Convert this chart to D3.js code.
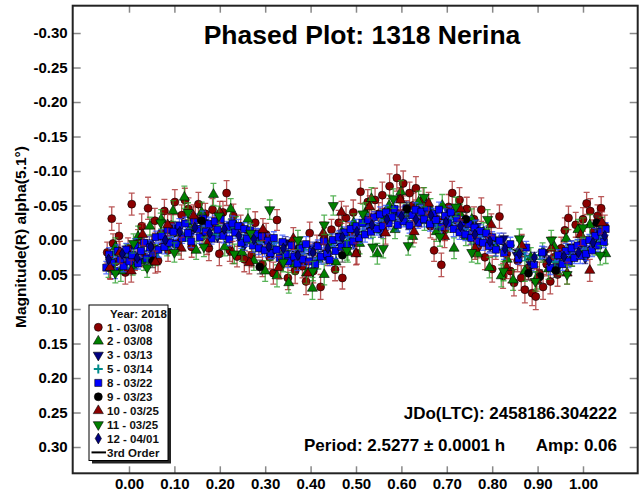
<!DOCTYPE html>
<html><head><meta charset="utf-8">
<script src="https://cdn.jsdelivr.net/npm/d3@7"></script>
<style>
body{margin:0;background:#fff}
svg{display:block}
text{font-family:"Liberation Sans",Arial,sans-serif;font-weight:bold}
</style></head>
<body><svg id="c" width="639" height="493"></svg>
<script>
// ---------- DATA ----------
const xTicks=[0.00,0.10,0.20,0.30,0.40,0.50,0.60,0.70,0.80,0.90,1.00];
const yTicks=[-0.30,-0.25,-0.20,-0.15,-0.10,-0.05,0.00,0.05,0.10,0.15,0.20,0.25,0.30];
const titleText="Phased Plot: 1318 Nerina";
const yLabel="Magnitude(R) alpha(5.1°)";
const legendTitle="Year: 2018";
const legendLabels=["1 - 03/08","2 - 03/08","3 - 03/13","5 - 03/14","8 - 03/22","9 - 03/23","10 - 03/25","11 - 03/25","12 - 04/01"];
const fitLabel="3rd Order";
const jdText="JDo(LTC): 2458186.304222";
const periodText="Period: 2.5277 ± 0.0001 h";
const ampText="Amp: 0.06";
const fitPhase=[-0.05,0.00,0.05,0.10,0.15,0.20,0.25,0.30,0.35,0.40,0.45,0.50,0.55,0.60,0.65,0.70,0.75,0.80,0.85,0.90,0.95,1.00,1.05];
const fitMag=[0.030,0.025,0.012,-0.005,-0.015,-0.013,-0.008,0.003,0.015,0.020,0.010,-0.008,-0.024,-0.031,-0.033,-0.028,-0.015,0.000,0.015,0.028,0.027,0.015,-0.010];

// [phase, mag, err]
const s1=[[-0.048,0.018,0.015],[-0.041,0.041,0.016],[-0.038,-0.031,0.017],[-0.035,0.005,0.014],[-0.030,0.032,0.015],[-0.022,-0.006,0.018],[-0.015,0.028,0.015],[-0.008,0.047,0.017],[-0.002,0.012,0.015],[0.006,-0.052,0.016],[0.013,0.030,0.014],[0.020,0.002,0.017],[0.028,-0.020,0.018],[0.034,0.024,0.015],[0.042,-0.046,0.016],[0.050,0.008,0.015],[0.057,-0.028,0.018],[0.064,0.030,0.016],[0.071,-0.010,0.015],[0.078,-0.042,0.017],[0.086,0.015,0.016],[0.093,-0.022,0.015],[0.101,-0.055,0.018],[0.108,0.004,0.016],[0.116,-0.036,0.015],[0.123,-0.058,0.017],[0.131,-0.045,0.016],[0.138,0.010,0.015],[0.146,-0.030,0.018],[0.153,-0.052,0.017],[0.161,-0.005,0.016],[0.168,-0.038,0.015],[0.176,0.012,0.018],[0.184,-0.044,0.016],[0.191,-0.018,0.015],[0.199,0.020,0.017],[0.207,-0.040,0.016],[0.215,-0.068,0.018],[0.222,0.015,0.016],[0.230,-0.035,0.017],[0.238,0.024,0.015],[0.246,-0.020,0.016],[0.254,0.028,0.018],[0.262,-0.012,0.015],[0.270,0.022,0.017],[0.278,-0.025,0.016],[0.286,0.010,0.015],[0.294,0.035,0.018],[0.302,-0.008,0.016],[0.310,0.025,0.017],[0.318,0.048,0.016],[0.326,-0.029,0.015],[0.334,0.038,0.018],[0.342,0.018,0.016],[0.350,0.055,0.017],[0.358,0.028,0.016],[0.366,0.045,0.018],[0.374,0.012,0.015],[0.382,0.038,0.017],[0.390,0.060,0.019],[0.398,-0.010,0.016],[0.406,0.045,0.017],[0.414,0.008,0.015],[0.422,0.068,0.018],[0.430,-0.002,0.016],[0.438,0.020,0.017],[0.446,-0.015,0.015],[0.454,0.043,0.016],[0.462,-0.025,0.018],[0.470,0.055,0.016],[0.478,-0.032,0.017],[0.486,-0.010,0.015],[0.494,-0.040,0.018],[0.502,0.019,0.016],[0.510,-0.070,0.017],[0.518,-0.025,0.016],[0.526,-0.055,0.018],[0.534,-0.030,0.015],[0.542,-0.058,0.017],[0.550,-0.038,0.016],[0.558,-0.065,0.019],[0.566,-0.030,0.016],[0.574,-0.078,0.018],[0.582,-0.045,0.017],[0.590,-0.090,0.019],[0.597,-0.060,0.016],[0.604,-0.082,0.018],[0.611,-0.040,0.017],[0.618,-0.068,0.016],[0.625,-0.050,0.018],[0.632,-0.075,0.017],[0.640,-0.035,0.016],[0.648,-0.058,0.018],[0.656,-0.042,0.015],[0.664,-0.020,0.017],[0.672,0.015,0.016],[0.680,-0.030,0.018],[0.688,0.036,0.017],[0.696,-0.015,0.016],[0.704,-0.048,0.018],[0.712,-0.068,0.017],[0.720,-0.035,0.016],[0.728,-0.058,0.018],[0.736,-0.020,0.016],[0.744,-0.045,0.017],[0.752,-0.008,0.015],[0.760,-0.030,0.018],[0.768,0.010,0.016],[0.776,-0.044,0.017],[0.784,0.025,0.018],[0.792,-0.005,0.016],[0.800,0.042,0.019],[0.808,0.012,0.016],[0.816,-0.034,0.017],[0.824,0.052,0.018],[0.832,0.020,0.016],[0.840,0.045,0.017],[0.848,0.062,0.019],[0.856,0.030,0.016],[0.864,0.055,0.018],[0.872,0.072,0.019],[0.880,0.040,0.017],[0.888,0.077,0.018],[0.896,0.082,0.019],[0.904,0.048,0.016],[0.912,0.068,0.018],[0.920,0.035,0.017],[0.928,0.060,0.018],[0.936,0.025,0.016],[0.944,0.050,0.017],[0.952,0.012,0.016],[0.960,-0.014,0.018],[0.968,-0.032,0.017],[0.976,0.022,0.016],[0.984,-0.022,0.018],[0.992,0.008,0.016],[1.000,-0.030,0.017],[1.008,-0.053,0.016],[1.016,-0.042,0.018],[1.024,-0.012,0.017],[1.032,-0.035,0.016],[1.040,-0.046,0.017],[1.048,-0.020,0.016]];
const s2=[[-0.045,0.040,0.014],[-0.030,0.010,0.013],[-0.018,0.045,0.015],[-0.005,0.020,0.014],[0.008,0.038,0.013],[0.020,-0.005,0.015],[0.033,0.030,0.014],[0.046,-0.020,0.013],[0.058,0.022,0.015],[0.071,-0.030,0.014],[0.084,0.010,0.013],[0.097,-0.042,0.015],[0.110,0.008,0.014],[0.122,-0.062,0.016],[0.135,-0.018,0.014],[0.148,0.015,0.013],[0.160,-0.040,0.015],[0.173,-0.010,0.014],[0.186,-0.066,0.016],[0.198,-0.028,0.014],[0.211,0.010,0.013],[0.224,-0.045,0.015],[0.236,-0.020,0.014],[0.249,0.018,0.013],[0.262,-0.030,0.015],[0.275,0.030,0.014],[0.288,0.000,0.013],[0.300,0.045,0.015],[0.313,0.015,0.014],[0.326,0.052,0.016],[0.339,0.025,0.014],[0.352,0.062,0.015],[0.365,0.035,0.014],[0.378,0.008,0.013],[0.391,0.048,0.015],[0.404,0.070,0.016],[0.417,0.028,0.014],[0.430,0.050,0.015],[0.443,0.005,0.013],[0.456,0.032,0.014],[0.469,-0.012,0.015],[0.482,0.018,0.014],[0.495,-0.025,0.013],[0.508,0.005,0.015],[0.521,-0.040,0.014],[0.534,-0.060,0.016],[0.547,0.020,0.015],[0.560,-0.030,0.014],[0.573,-0.050,0.015],[0.586,-0.015,0.013],[0.599,-0.070,0.016],[0.612,-0.038,0.014],[0.625,-0.005,0.015],[0.638,-0.055,0.016],[0.651,-0.028,0.014],[0.664,-0.045,0.015],[0.677,-0.012,0.014],[0.690,-0.050,0.016],[0.703,-0.025,0.014],[0.716,0.012,0.015],[0.729,-0.038,0.014],[0.742,-0.005,0.013],[0.755,-0.030,0.015],[0.768,0.020,0.014],[0.781,-0.012,0.013],[0.794,0.040,0.015],[0.807,0.010,0.014],[0.820,0.052,0.016],[0.833,0.028,0.014],[0.846,0.058,0.015],[0.859,0.015,0.014],[0.872,0.045,0.015],[0.885,0.025,0.014],[0.898,0.055,0.016],[0.911,0.018,0.014],[0.924,0.042,0.015],[0.937,0.010,0.014],[0.950,0.035,0.015],[0.963,-0.002,0.014],[0.976,0.025,0.013],[0.989,-0.015,0.015],[1.002,0.012,0.014],[1.015,-0.022,0.015],[1.028,0.008,0.014],[1.041,-0.018,0.015],[1.050,0.020,0.014]];
const s3=[[-0.040,0.035,0.009],[-0.010,0.018,0.009],[0.020,0.030,0.008],[0.045,0.004,0.009],[0.075,-0.002,0.009],[0.105,-0.018,0.008],[0.135,-0.008,0.009],[0.165,-0.026,0.009],[0.195,-0.005,0.008],[0.225,-0.022,0.009],[0.255,0.006,0.009],[0.285,-0.008,0.008],[0.315,0.018,0.009],[0.345,0.004,0.009],[0.375,0.028,0.008],[0.405,0.012,0.009],[0.435,0.024,0.009],[0.465,-0.006,0.008],[0.495,0.004,0.009],[0.525,-0.024,0.009],[0.555,-0.012,0.008],[0.585,-0.038,0.009],[0.615,-0.024,0.009],[0.645,-0.044,0.008],[0.675,-0.025,0.009],[0.705,-0.040,0.009],[0.735,-0.012,0.008],[0.765,-0.020,0.009],[0.795,0.008,0.009],[0.825,-0.002,0.008],[0.855,0.022,0.009],[0.885,0.035,0.009],[0.915,0.018,0.008],[0.945,0.038,0.009],[0.975,0.010,0.009],[1.005,0.026,0.008],[1.035,-0.012,0.009]];
const s5=[[-0.035,0.022,0.006],[-0.005,0.034,0.006],[0.028,0.008,0.006],[0.062,0.018,0.006],[0.092,-0.010,0.006],[0.125,-0.004,0.006],[0.158,-0.020,0.006],[0.190,-0.008,0.006],[0.222,-0.018,0.006],[0.255,-0.002,0.006],[0.288,0.010,0.006],[0.320,0.004,0.006],[0.352,0.022,0.006],[0.385,0.014,0.006],[0.418,0.026,0.006],[0.450,0.004,0.006],[0.482,-0.004,0.006],[0.515,-0.020,0.006],[0.548,-0.016,0.006],[0.580,-0.034,0.006],[0.612,-0.026,0.006],[0.645,-0.036,0.006],[0.678,-0.024,0.006],[0.710,-0.030,0.006],[0.742,-0.010,0.006],[0.775,-0.006,0.006],[0.808,0.010,0.006],[0.840,0.008,0.006],[0.872,0.024,0.006],[0.905,0.022,0.006],[0.938,0.032,0.006],[0.970,0.016,0.006],[1.002,0.020,0.006],[1.035,-0.002,0.006]];
const s8=[[-0.050,0.040,0.009],[-0.044,0.021,0.010],[-0.038,0.033,0.008],[-0.031,0.045,0.011],[-0.025,0.016,0.009],[-0.019,0.029,0.010],[-0.012,0.038,0.008],[-0.006,0.014,0.009],[0.001,0.031,0.011],[0.007,0.022,0.009],[0.013,0.008,0.010],[0.020,0.034,0.008],[0.026,0.016,0.009],[0.033,0.004,0.011],[0.039,0.027,0.009],[0.046,0.011,0.010],[0.052,0.022,0.008],[0.059,-0.004,0.009],[0.065,0.014,0.011],[0.072,-0.006,0.009],[0.078,0.010,0.010],[0.085,-0.015,0.008],[0.091,0.004,0.009],[0.098,-0.012,0.011],[0.104,0.006,0.009],[0.111,-0.021,0.010],[0.117,-0.003,0.008],[0.124,-0.024,0.009],[0.130,-0.010,0.011],[0.137,0.002,0.009],[0.143,-0.028,0.010],[0.150,-0.016,0.008],[0.156,-0.004,0.009],[0.163,-0.031,0.011],[0.169,-0.012,0.009],[0.176,-0.023,0.010],[0.182,-0.002,0.008],[0.189,-0.027,0.009],[0.195,-0.015,0.011],[0.202,-0.030,0.009],[0.208,-0.006,0.010],[0.215,-0.019,0.008],[0.221,-0.001,0.009],[0.228,-0.024,0.011],[0.234,-0.011,0.009],[0.241,-0.020,0.010],[0.247,0.004,0.008],[0.254,-0.016,0.009],[0.260,-0.002,0.011],[0.267,-0.014,0.009],[0.273,0.008,0.010],[0.280,-0.009,0.008],[0.286,0.012,0.009],[0.293,-0.005,0.011],[0.299,0.015,0.009],[0.306,0.001,0.010],[0.312,0.019,0.008],[0.319,-0.003,0.009],[0.325,0.014,0.011],[0.332,0.026,0.009],[0.338,0.003,0.010],[0.345,0.021,0.008],[0.351,0.031,0.009],[0.358,0.008,0.011],[0.364,0.024,0.009],[0.371,0.034,0.010],[0.377,0.012,0.008],[0.384,0.028,0.009],[0.390,0.006,0.011],[0.397,0.031,0.009],[0.403,0.017,0.010],[0.410,0.035,0.008],[0.416,0.009,0.009],[0.423,0.024,0.011],[0.429,0.002,0.009],[0.436,0.020,0.010],[0.442,0.029,0.008],[0.449,0.000,0.009],[0.455,0.016,0.011],[0.462,-0.004,0.009],[0.468,0.010,0.010],[0.475,-0.011,0.008],[0.481,0.006,0.009],[0.488,-0.016,0.011],[0.494,0.002,0.009],[0.501,-0.020,0.010],[0.507,-0.003,0.008],[0.514,-0.025,0.009],[0.520,-0.008,0.011],[0.527,-0.029,0.009],[0.533,-0.012,0.010],[0.540,-0.033,0.008],[0.546,-0.016,0.009],[0.553,-0.037,0.011],[0.559,-0.020,0.009],[0.566,-0.040,0.010],[0.572,-0.024,0.008],[0.579,-0.033,0.009],[0.585,-0.045,0.011],[0.592,-0.022,0.009],[0.598,-0.038,0.010],[0.605,-0.027,0.008],[0.611,-0.046,0.009],[0.618,-0.021,0.011],[0.624,-0.036,0.009],[0.631,-0.044,0.010],[0.637,-0.025,0.008],[0.644,-0.041,0.009],[0.650,-0.030,0.011],[0.657,-0.047,0.009],[0.663,-0.023,0.010],[0.670,-0.038,0.008],[0.676,-0.029,0.009],[0.683,-0.044,0.011],[0.689,-0.019,0.009],[0.696,-0.035,0.010],[0.702,-0.024,0.008],[0.709,-0.040,0.009],[0.715,-0.016,0.011],[0.722,-0.031,0.009],[0.728,-0.011,0.010],[0.735,-0.026,0.008],[0.741,-0.008,0.009],[0.748,-0.023,0.011],[0.754,-0.003,0.009],[0.761,-0.018,0.010],[0.767,0.002,0.008],[0.774,-0.013,0.009],[0.780,0.004,0.011],[0.787,-0.010,0.009],[0.793,0.009,0.010],[0.800,-0.004,0.008],[0.808,0.014,0.009],[0.816,0.001,0.011],[0.826,0.019,0.009],[0.840,0.006,0.010],[0.858,0.027,0.008],[0.875,0.011,0.009],[0.892,0.036,0.011],[0.910,0.018,0.009],[0.928,0.040,0.010],[0.945,0.022,0.008],[0.955,0.035,0.009],[0.962,0.016,0.011],[0.968,0.031,0.009],[0.975,0.012,0.010],[0.981,0.026,0.008],[0.988,0.008,0.009],[0.994,0.023,0.011],[1.001,0.004,0.009],[1.007,0.020,0.010],[1.014,0.000,0.008],[1.020,0.015,0.009],[1.027,-0.006,0.011],[1.033,0.008,0.009],[1.040,-0.012,0.010],[1.046,0.003,0.008],[1.050,-0.016,0.009]];
const s9=[[0.052,0.030,0.010],[0.160,-0.028,0.010],[0.288,0.039,0.010],[0.470,0.022,0.010],[0.612,-0.045,0.010],[0.742,-0.030,0.010],[0.880,0.048,0.010],[0.905,0.053,0.010],[0.940,0.044,0.010],[1.030,-0.025,0.010]];
const s10=[[-0.042,0.040,0.016],[-0.020,0.018,0.016],[0.005,0.045,0.016],[0.030,-0.008,0.016],[0.058,0.032,0.016],[0.085,-0.022,0.016],[0.115,0.012,0.016],[0.142,-0.035,0.016],[0.172,0.005,0.016],[0.200,-0.040,0.016],[0.228,0.018,0.016],[0.265,0.033,0.016],[0.295,-0.015,0.016],[0.330,0.040,0.016],[0.362,-0.002,0.016],[0.395,0.048,0.016],[0.428,-0.010,0.016],[0.468,-0.040,0.016],[0.500,0.020,0.016],[0.530,-0.048,0.016],[0.565,-0.010,0.016],[0.598,-0.058,0.016],[0.628,-0.012,0.016],[0.660,-0.053,0.016],[0.695,-0.005,0.016],[0.730,-0.045,0.016],[0.762,0.012,0.016],[0.798,-0.022,0.016],[0.832,0.040,0.016],[0.865,0.008,0.016],[0.898,0.058,0.016],[0.930,0.012,0.016],[0.965,0.048,0.016],[0.995,-0.008,0.016],[1.015,0.044,0.016],[1.042,-0.025,0.016]];
const s11=[[-0.030,0.048,0.014],[0.010,0.005,0.014],[0.040,0.040,0.014],[0.070,-0.025,0.014],[0.100,0.018,0.014],[0.130,-0.040,0.014],[0.165,0.010,0.014],[0.198,-0.035,0.014],[0.232,0.020,0.014],[0.268,-0.010,0.014],[0.310,-0.044,0.014],[0.340,0.032,0.014],[0.372,0.000,0.014],[0.405,0.045,0.014],[0.430,-0.022,0.014],[0.450,-0.050,0.014],[0.480,0.015,0.014],[0.515,-0.038,0.014],[0.537,0.010,0.014],[0.560,0.012,0.014],[0.582,-0.060,0.014],[0.615,0.008,0.014],[0.650,-0.062,0.014],[0.685,-0.005,0.014],[0.720,-0.048,0.014],[0.755,0.018,0.014],[0.790,-0.030,0.014],[0.825,0.045,0.014],[0.860,-0.002,0.014],[0.895,0.060,0.014],[0.930,0.000,0.014],[0.965,0.050,0.014],[1.000,-0.018,0.014],[1.038,0.022,0.014]];
const s12=[[-0.045,0.028,0.007],[-0.015,0.020,0.007],[0.018,0.026,0.007],[0.048,0.010,0.007],[0.080,0.000,0.007],[0.112,-0.012,0.007],[0.145,-0.018,0.007],[0.178,-0.010,0.007],[0.210,-0.016,0.007],[0.242,-0.006,0.007],[0.275,-0.001,0.007],[0.308,0.010,0.007],[0.340,0.012,0.007],[0.372,0.022,0.007],[0.405,0.018,0.007],[0.438,0.012,0.007],[0.470,-0.004,0.007],[0.502,-0.012,0.007],[0.535,-0.022,0.007],[0.568,-0.030,0.007],[0.600,-0.034,0.007],[0.632,-0.030,0.007],[0.665,-0.036,0.007],[0.698,-0.026,0.007],[0.730,-0.020,0.007],[0.762,-0.008,0.007],[0.795,0.002,0.007],[0.828,0.012,0.007],[0.860,0.020,0.007],[0.893,0.025,0.007],[0.925,0.030,0.007],[0.958,0.024,0.007],[0.990,0.018,0.007],[1.022,0.004,0.007],[1.048,-0.006,0.007]];

// ---------- STYLE ----------
const seriesData=[s1,s2,s3,s5,s8,s9,s10,s11,s12];
const styles=[
 {shape:"circle",fill:"#8b0000",bar:"#a31f1f"},
 {shape:"tri",fill:"#008000",bar:"#1f9a1f"},
 {shape:"tridown",fill:"#000080",bar:"#2a2aa0"},
 {shape:"plus",fill:"#008b8b",bar:"#2a9a9a"},
 {shape:"square",fill:"#0000ff",bar:"#2a4aff"},
 {shape:"circle",fill:"#000000",bar:"#333333"},
 {shape:"tri",fill:"#8b0000",bar:"#a31f1f"},
 {shape:"tridown",fill:"#008000",bar:"#1f9a1f"},
 {shape:"diamond",fill:"#000080",bar:"#2a2aa0"}
];

const svg=d3.select("#c");
const L=72.7,R=637.7,T=5.7,B=473.3;
const x=d3.scaleLinear().domain([-0.124,1.1205]).range([L,R]);
const y=d3.scaleLinear().domain([-0.3396,0.3381]).range([T,B]);

svg.append("rect").attr("width",639).attr("height",493).attr("fill","#fff");

function markerPath(shape){
  if(shape==="circle") return d3.symbol().type(d3.symbolCircle).size(50)();
  if(shape==="tri"||shape==="tridown") return d3.symbol().type(d3.symbolTriangle).size(44)();
  if(shape==="square") return d3.symbol().type(d3.symbolSquare).size(50)();
  if(shape==="diamond") return d3.symbol().type(d3.symbolDiamond).size(34)();
  if(shape==="plus") return "M-4.5,0H4.5M0,-4.5V4.5";
}
function drawMarker(g,shape,fill,X,Y){
  const p=g.append("path").attr("d",markerPath(shape))
    .attr("transform",`translate(${X},${Y})`+(shape==="tridown"?" rotate(180)":""));
  if(shape==="plus") p.attr("fill","none").attr("stroke",fill).attr("stroke-width",2);
  else p.attr("fill",fill).attr("stroke","#000").attr("stroke-width",0.6);
  return p;
}

// fit curve (under points)
const plot=svg.append("g");
plot.append("path")
  .datum(fitPhase.map((p,i)=>[p,fitMag[i]]))
  .attr("d",d3.line().x(d=>x(d[0])).y(d=>y(d[1])).curve(d3.curveCatmullRom))
  .attr("fill","none").attr("stroke","#000").attr("stroke-width",1.5);

seriesData.forEach((data,si)=>{
  const st=styles[si];
  const g=plot.append("g");
  g.selectAll("path.eb").data(data).join("path").attr("class","eb")
    .attr("d",d=>{const X=x(d[0]),y1=y(d[1]-d[2]),y2=y(d[1]+d[2]);
      return `M${X},${y1}V${y2}M${X-3},${y1}H${X+3}M${X-3},${y2}H${X+3}`;})
    .attr("fill","none").attr("stroke",st.bar).attr("stroke-width",1.3).attr("opacity",0.75);
  data.forEach(d=>drawMarker(g,st.shape,st.fill,x(d[0]),y(d[1])));
});

// axes
const fmt=d=>d.toFixed(2);
const gx=svg.append("g").attr("transform",`translate(0,${B})`)
  .call(d3.axisBottom(x).tickValues(xTicks).tickSize(-7).tickPadding(5).tickFormat(fmt));
const gxt=svg.append("g").attr("transform",`translate(0,${T})`)
  .call(d3.axisTop(x).tickValues(xTicks).tickSize(-7).tickFormat(""));
const gy=svg.append("g").attr("transform",`translate(${L},0)`)
  .call(d3.axisLeft(y).tickValues(yTicks).tickSize(-8).tickPadding(5).tickFormat(fmt));
const gyr=svg.append("g").attr("transform",`translate(${R},0)`)
  .call(d3.axisRight(y).tickValues(yTicks).tickSize(-8).tickFormat(""));
[gx,gxt,gy,gyr].forEach(g=>{
  g.select(".domain").remove();
  g.selectAll(".tick line").attr("stroke","#888").attr("stroke-width",1.5);
  g.selectAll(".tick text").attr("fill","#000").style("font-size","15px")
    .style("font-family","'Liberation Sans',Arial,sans-serif").style("font-weight","bold");
});
svg.append("rect").attr("x",L).attr("y",T).attr("width",R-L).attr("height",B-T)
  .attr("fill","none").attr("stroke","#222").attr("stroke-width",2);

// title & labels
svg.append("text").attr("x",362).attr("y",44).attr("text-anchor","middle")
  .style("font-size","26.5px").attr("fill","#000").text(titleText);
svg.append("text").attr("transform","translate(26,237) rotate(-90)").attr("text-anchor","middle")
  .style("font-size","15.5px").attr("fill","#000").text(yLabel);
svg.append("text").attr("x",617).attr("y",419).attr("text-anchor","end")
  .style("font-size","17px").attr("fill","#000").text(jdText);
svg.append("text").attr("x",304).attr("y",451)
  .style("font-size","17px").attr("fill","#000").text(periodText);
svg.append("text").attr("x",617).attr("y",451).attr("text-anchor","end")
  .style("font-size","17px").attr("fill","#000").text(ampText);

// legend
const lg=svg.append("g");
lg.append("rect").attr("x",92).attr("y",308).attr("width",79).attr("height",155.5).attr("fill","#222");
lg.append("rect").attr("x",89).attr("y",305).attr("width",79).attr("height",155.5)
  .attr("fill","#fff").attr("stroke","#000").attr("stroke-width",1);
lg.append("text").attr("x",110).attr("y",318).style("font-size","11.5px").attr("fill","#111").text(legendTitle);
legendLabels.forEach((lab,i)=>{
  const cy=327.3+i*13.9;
  drawMarker(lg,styles[i].shape,styles[i].fill,98.3,cy);
  lg.append("text").attr("x",107).attr("y",cy+4.2).style("font-size","11.5px").attr("fill","#111").text(lab);
});
const fy=327.3+9*13.9;
lg.append("line").attr("x1",91.5).attr("x2",106).attr("y1",fy).attr("y2",fy).attr("stroke","#000").attr("stroke-width",2);
lg.append("text").attr("x",107).attr("y",fy+4.2).style("font-size","11.5px").attr("fill","#111").text(fitLabel);
</script></body></html>
